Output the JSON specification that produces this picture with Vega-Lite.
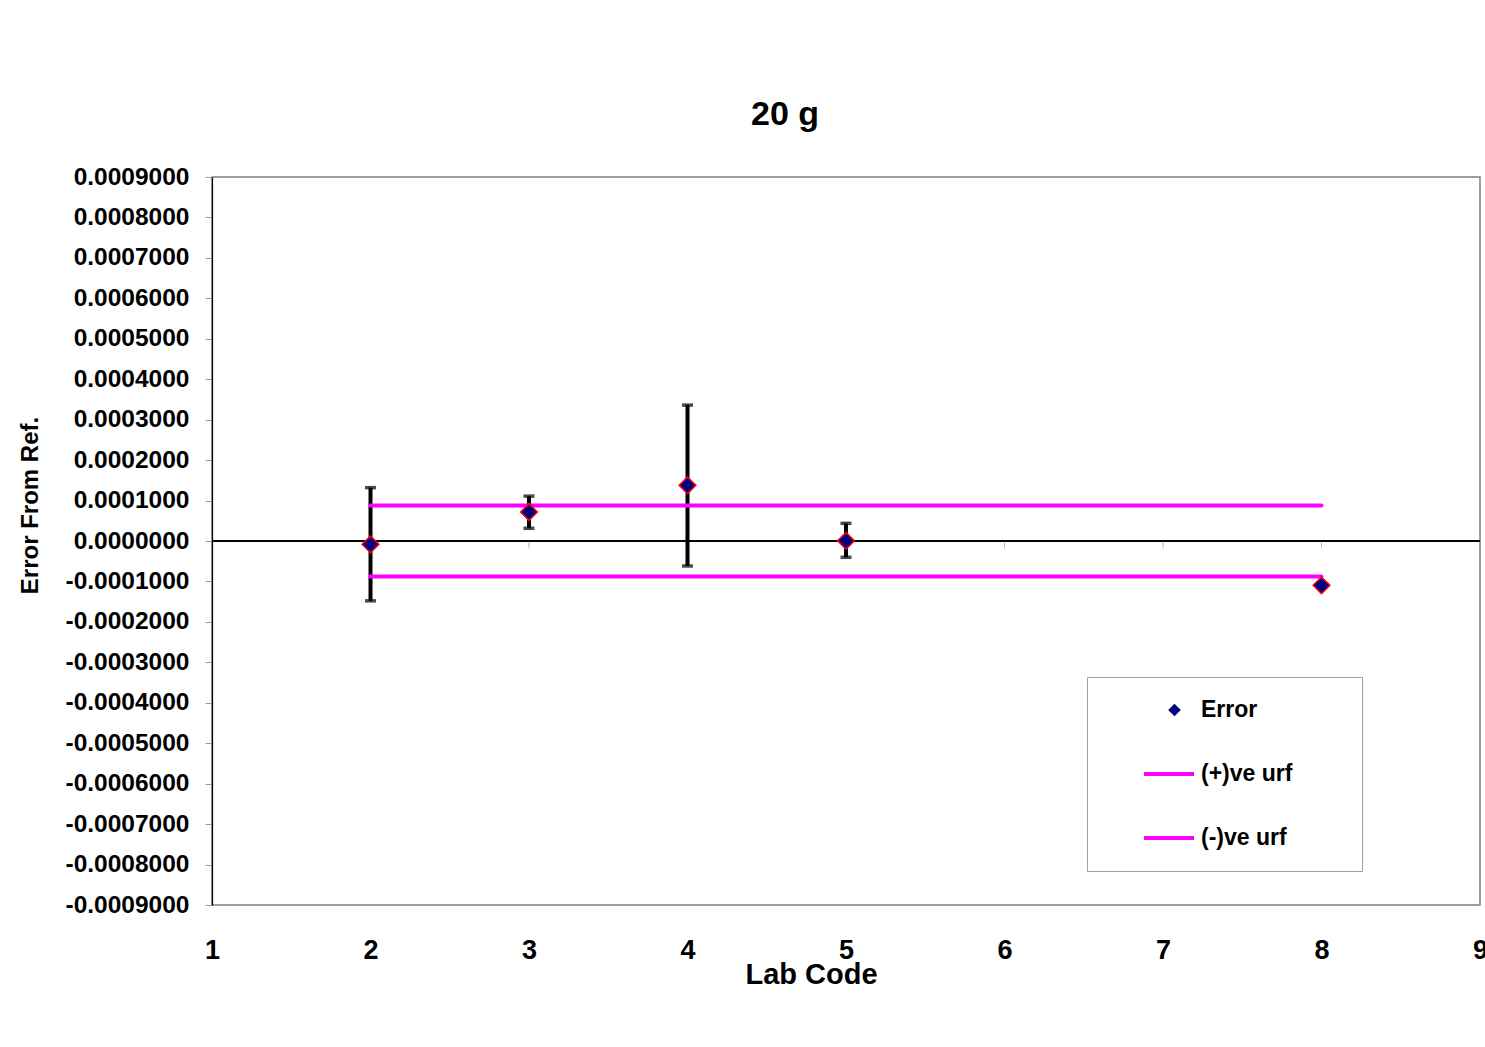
{
  "$schema": "https://vega.github.io/schema/vega-lite/v6.json",
  "width": 1268,
  "height": 728,
  "autosize": {"type": "none"},
  "padding": {"left": 212, "top": 177, "right": 5, "bottom": 142},
  "background": "white",
  "title": {"text": "20 g", "font": "Liberation Sans", "fontSize": 34, "fontWeight": "bold", "color": "black", "anchor": "middle", "dx": -61, "offset": 32},
  "config": {
    "view": {"stroke": "#808080", "strokeWidth": 1.5},
    "axis": {"grid": false}
  },
  "data": {"values": [
    {"lab": 2, "error": -0.0000082, "lo": -0.000148, "hi": 0.000132, "urf_pos": 0.000088, "urf_neg": -0.000088},
    {"lab": 3, "error": 0.0000717, "lo": 0.0000314, "hi": 0.000111, "urf_pos": 0.000088, "urf_neg": -0.000088},
    {"lab": 4, "error": 0.0001377, "lo": -0.0000618, "hi": 0.000336, "urf_pos": 0.000088, "urf_neg": -0.000088},
    {"lab": 5, "error": 0.0000005, "lo": -0.0000403, "hi": 0.0000437, "urf_pos": 0.000088, "urf_neg": -0.000088},
    {"lab": 6, "error": null, "lo": null, "hi": null, "urf_pos": 0.000088, "urf_neg": -0.000088},
    {"lab": 7, "error": null, "lo": null, "hi": null, "urf_pos": 0.000088, "urf_neg": -0.000088},
    {"lab": 8, "error": -0.0001096, "lo": null, "hi": null, "urf_pos": 0.000088, "urf_neg": -0.000088}
  ]},
  "encoding": {
    "x": {
      "field": "lab", "type": "quantitative",
      "scale": {"domain": [1, 9], "nice": false, "zero": false},
      "axis": {
        "title": "Lab Code", "values": [1, 2, 3, 4, 5, 6, 7, 8, 9], "format": "d",
        "domain": false, "ticks": false,
        "labelFont": "Liberation Sans", "labelFontSize": 27, "labelFontWeight": "bold", "labelColor": "black",
        "labelPadding": 32, "labelFlush": false, "labelOverlap": false,
        "titleFont": "Liberation Sans", "titleFontSize": 29, "titleFontWeight": "bold", "titleColor": "black",
        "titleX": 599, "titleY": 55, "titleBaseline": "top", "titleAnchor": "middle", "titleAlign": "center"
      }
    }
  },
  "layer": [
    {
      "mark": {"type": "rule", "color": "black", "strokeWidth": 1.2},
      "encoding": {"x": null, "y": {"datum": 0, "type": "quantitative"}}
    },
    {
      "mark": {"type": "tick", "orient": "vertical", "color": "#9a9a9a", "size": 7, "thickness": 1, "yOffset": 4},
      "encoding": {"y": {"datum": 0, "type": "quantitative"}}
    },
    {
      "mark": {"type": "rule", "color": "black", "strokeWidth": 4},
      "encoding": {
        "y": {"field": "lo", "type": "quantitative"},
        "y2": {"field": "hi"}
      }
    },
    {
      "mark": {"type": "tick", "orient": "horizontal", "color": "black", "size": 11, "thickness": 3.5},
      "encoding": {"y": {"field": "lo", "type": "quantitative"}}
    },
    {
      "mark": {"type": "tick", "orient": "horizontal", "color": "black", "size": 11, "thickness": 3.5},
      "encoding": {"y": {"field": "hi", "type": "quantitative"}}
    },
    {
      "mark": {"type": "line", "strokeWidth": 4, "strokeCap": "round"},
      "encoding": {
        "y": {"field": "urf_pos", "type": "quantitative"},
        "stroke": {
          "datum": "(+)ve urf", "type": "nominal",
          "scale": {"domain": ["Error", "(+)ve urf", "(-)ve urf"], "range": ["transparent", "#FF00FF", "#FF00FF"]},
          "legend": {
            "orient": "none", "legendX": 875, "legendY": 500,
            "title": "\u00a0", "titleOrient": "left", "titlePadding": 54, "titleFontSize": 20,
            "padding": 1, "clipHeight": 64, "rowPadding": 0,
            "strokeColor": "#a0a0a0", "fillColor": null,
            "symbolType": "stroke", "symbolSize": 2500, "symbolStrokeWidth": 4,
            "labelFont": "Liberation Sans", "labelFontSize": 23, "labelFontWeight": "bold", "labelColor": "black",
            "labelOffset": 5, "labelLimit": 400,
            "labelExpr": "datum.label + '\u2800\u2800\u2800\u2800'"
          }
        }
      }
    },
    {
      "mark": {"type": "line", "strokeWidth": 4, "strokeCap": "round"},
      "encoding": {
        "y": {"field": "urf_neg", "type": "quantitative"},
        "stroke": {"datum": "(-)ve urf", "type": "nominal"}
      }
    },
    {
      "mark": {"type": "point", "shape": "diamond", "filled": true, "color": "#000080", "size": 280, "stroke": "#FF0000", "strokeWidth": 1.5, "opacity": 1},
      "encoding": {
        "y": {
          "field": "error", "type": "quantitative",
          "scale": {"domain": [-0.0009, 0.0009], "nice": false, "zero": false},
          "axis": {
            "title": "Error From Ref.",
            "values": [-0.0009, -0.0008, -0.0007, -0.0006, -0.0005, -0.0004, -0.0003, -0.0002, -0.0001, 0, 0.0001, 0.0002, 0.0003, 0.0004, 0.0005, 0.0006, 0.0007, 0.0008, 0.0009],
            "labelExpr": "replace(format(datum.value, '.7f'), '\u2212', '-')",
            "domain": true, "domainColor": "black", "domainWidth": 1.2,
            "ticks": true, "tickColor": "#9a9a9a", "tickSize": 7, "tickWidth": 1,
            "labelFont": "Liberation Sans", "labelFontSize": 24.5, "labelFontWeight": "bold", "labelColor": "black",
            "labelPadding": 16, "labelOverlap": false, "labelFlush": false,
            "titleFont": "Liberation Sans", "titleFontSize": 24, "titleFontWeight": "bold", "titleColor": "black",
            "titleX": -182, "titleY": 328, "titleBaseline": "middle", "titleAlign": "center", "titleAngle": 270
          }
        },
        "shape": {
          "datum": "Error", "type": "nominal",
          "scale": {"domain": ["Error"], "range": ["diamond"]},
          "legend": {
            "orient": "none", "legendX": 955, "legendY": 523,
            "title": null, "padding": 0, "clipHeight": 20,
            "strokeColor": null, "fillColor": null,
            "symbolSize": 160, "symbolFillColor": "#000080", "symbolStrokeColor": "#FF0000", "symbolStrokeWidth": 1.5,
            "labelExpr": "''", "labelFontSize": 1
          }
        }
      }
    }
  ]
}
